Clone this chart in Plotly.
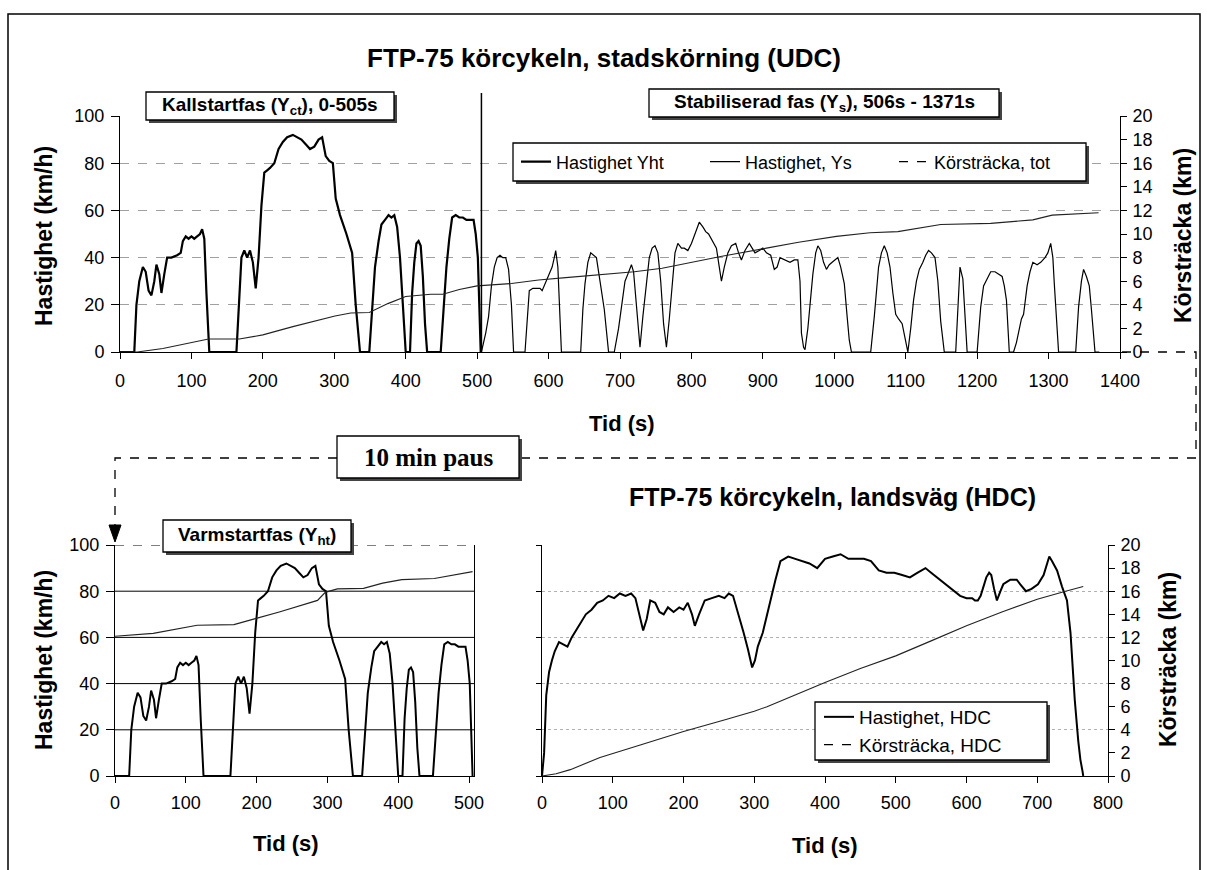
import plotly.graph_objects as go

W, H = 1207, 870

# ---------------- data ----------------
# Cold start phase (Yct / Yht), 0-505 s, km/h
t_yct = [0, 20, 23, 27, 32, 36, 40, 44, 48, 51, 55, 58, 62, 66, 72, 80, 85, 88, 92, 96, 100, 104, 108, 112, 115, 118, 121, 125,
         163, 166, 170, 174, 178, 182, 186, 190, 194, 198, 202, 206, 210, 216, 222, 228, 234, 242, 248, 254,
         260, 266, 272, 278, 283, 288, 293, 298, 302, 308, 317, 325, 330, 336,
         349, 353, 357, 362, 366, 371, 376, 380, 384, 388, 392, 396, 400,
         406, 409, 412, 415, 418, 421, 424, 427, 430,
         449, 453, 457, 461, 465, 470, 475, 480, 485, 490, 495, 498, 501, 505]
v_yct = [0, 0, 20, 30, 36, 34, 26, 24, 30, 37, 33, 25, 33, 40, 40, 41, 42, 47, 49, 48, 49, 48, 49, 50, 52, 48, 25, 0,
         0, 20, 40, 43, 40, 43, 38, 27, 40, 62, 76, 77, 78, 80, 86, 89, 91, 92, 91, 90,
         88, 86, 87, 90, 91, 83, 81, 80, 65, 58, 50, 42, 20, 0,
         0, 20, 36, 47, 54, 56, 58, 57, 58, 53, 40, 20, 0,
         0, 25, 38, 46, 47, 45, 32, 12, 0,
         0, 18, 36, 48, 57, 58, 57, 57, 56, 56, 56, 50, 40, 0]

# Stabilised phase (Ys), 506-1371 s, km/h
t_ys = [506, 512, 516, 520, 524, 528, 532, 536, 540, 544, 548, 551,
        567, 573, 578, 583, 588, 591, 594, 597, 601, 605, 608, 610, 613, 616, 618,
        645, 648, 651, 655, 659, 663, 667, 672, 678, 684,
        692, 698, 703, 707, 711, 716, 719, 722, 725, 728,
        732, 737, 741, 745, 749, 753, 757, 761, 765,
        769, 773, 777, 781, 786, 790, 795, 800, 805, 811,
        816, 820, 824, 829, 835, 839, 842, 846, 851, 856,
        862, 866, 870, 875, 881, 885, 889, 895, 900, 905,
        911, 916, 920, 924, 930, 938, 944, 949, 952, 954,
        957, 959, 963, 967, 970, 974, 977, 981, 985, 989,
        993, 997, 1001, 1005, 1009, 1014, 1018, 1021, 1024,
        1051, 1056, 1059, 1062, 1066, 1070, 1074, 1078, 1082, 1086, 1090, 1095, 1099, 1103,
        1107, 1111, 1115, 1119, 1124, 1128, 1132, 1136, 1141, 1145, 1149, 1154,
        1170, 1173, 1176, 1180, 1183, 1186,
        1200, 1205, 1209, 1214, 1219, 1225, 1230, 1235, 1238, 1241, 1245,
        1251, 1255, 1259, 1262, 1265, 1270, 1274, 1278, 1284, 1289, 1295, 1299, 1303, 1306, 1308, 1311, 1314,
        1338, 1342, 1346, 1349, 1353, 1357, 1360, 1363, 1365, 1371]
v_ys = [0, 8, 15, 28, 36, 40, 41, 40, 40, 35, 20, 0,
        0, 26, 27, 27, 27, 26, 28, 30, 33, 36, 40, 43, 36, 15, 0,
        0, 18, 29, 38, 42, 41, 40, 30, 18, 0,
        0, 10, 22, 30, 33, 37, 34, 22, 10, 2,
        15, 30, 40, 44, 45, 42, 30, 12, 2,
        14, 30, 42, 46, 44, 44, 43, 46, 50, 55,
        53, 51, 50, 47, 44, 36, 30, 36, 42, 45,
        46, 42, 39, 43, 46, 44, 42, 43, 44, 42,
        41, 35, 36, 40, 39, 38, 39, 39, 30, 8,
        2, 1, 10, 25, 33, 42, 45, 43, 38, 35,
        37, 38, 39, 40, 36, 29, 15, 5, 0,
        0, 15, 27, 36, 42, 45, 42, 36, 25, 16, 14, 12, 6, 0,
        10, 22, 30, 35, 38, 41, 43, 42, 40, 30, 13, 0,
        0, 20, 36, 31, 15, 0,
        0, 19, 28, 31, 34, 34, 33, 32, 28, 22, 0,
        0, 4, 9, 14, 16, 28, 34, 38, 37, 38, 40, 42, 46, 40, 29, 12, 0,
        0, 19, 30, 35, 32, 28, 18, 5, 0, 0]

# Total distance over UDC (km)
t_dist_tot = [0, 24, 60, 100, 124, 167, 200, 242, 270, 301,
              323, 349, 375, 400, 435, 452, 475, 500, 548, 586,
              624, 676, 720, 759, 800, 841, 905, 950, 1003, 1050,
              1089, 1149, 1219, 1278, 1305, 1340, 1370]
d_dist_tot = [0, 0, 0.3, 0.8, 1.1, 1.1, 1.45, 2.15, 2.6, 3.05,
              3.3, 3.35, 4.1, 4.7, 4.9, 4.9, 5.3, 5.6, 5.8, 6.1,
              6.3, 6.6, 6.8, 7.1, 7.6, 8.1, 8.8, 9.3, 9.8, 10.1,
              10.2, 10.8, 10.9, 11.2, 11.6, 11.7, 11.8]

# Hot start phase: total distance continues (km)
t_dist_ht = [0, 54, 116, 168, 197, 232, 286, 297, 314, 351, 378, 405, 451, 505]
d_dist_ht = [12.1, 12.35, 13.05, 13.1, 13.6, 14.2, 15.2, 15.9, 16.2, 16.25, 16.7, 17.0, 17.1, 17.7]

# HDC speed (km/h)
t_hdc = [0, 3, 6, 10, 14, 18, 24, 30, 36, 42,
         48, 55, 62, 70, 78, 86, 94, 102, 110, 118,
         126, 132, 138, 143, 148, 153, 160, 166, 172, 178,
         186, 194, 200, 206, 212, 216, 222, 230, 240, 250,
         258, 264, 270, 278, 285, 291, 297, 301, 305, 312,
         318, 323, 330, 337, 348, 358, 368, 378, 389, 400,
         411, 422, 433, 444, 455, 465, 476, 487, 498, 509,
         520, 531, 542, 550, 558, 566, 575, 583, 591, 600,
         608, 612, 616, 620, 624, 628, 632, 635, 639, 643,
         648, 652, 657, 662, 667, 671, 676, 684, 692, 701,
         709, 714, 717, 721, 725, 728, 735, 742, 747, 753,
         758, 761, 764, 765]
v_hdc = [0, 10, 35, 45, 50, 54, 58, 57, 56, 60,
         63, 66, 70, 72, 75, 76, 78, 77, 79, 78,
         79, 77, 70, 63, 68, 76, 75, 71, 70, 73,
         71, 73, 72, 75, 70, 65, 70, 76, 77, 78,
         77, 79, 78, 70, 62, 55, 47, 50, 56, 62,
         70, 76, 85, 93, 95, 94, 93, 92, 90, 94,
         95, 96, 94, 94, 94, 93, 89, 88, 88, 87,
         86, 88, 90, 88, 86, 84, 82, 80, 78, 77,
         77, 76, 76, 78, 82, 86, 88, 87, 81, 76,
         80, 83, 84, 85, 85, 85, 83, 80, 81, 83,
         87, 92, 95, 93, 91, 89, 82, 76, 62, 33,
         15, 7, 2, 0]

# HDC distance (km)
t_hdc_dist = [0, 20, 40, 82, 140, 200, 260, 300, 318, 360, 400, 450, 500, 550, 600, 650, 700, 740, 765]
d_hdc_dist = [0, 0.2, 0.55, 1.6, 2.7, 3.86, 4.9, 5.6, 6.0, 7.1, 8.1, 9.3, 10.4, 11.7, 13.0, 14.2, 15.3, 16.0, 16.4]

# tick values
ticks_t_udc = [0, 100, 200, 300, 400, 500, 600, 700, 800, 900, 1000, 1100, 1200, 1300, 1400]
ticks_t_ht = [0, 100, 200, 300, 400, 500]
ticks_t_hdc = [0, 100, 200, 300, 400, 500, 600, 700, 800]
ticks_speed = [0, 20, 40, 60, 80, 100]
ticks_km = [0, 2, 4, 6, 8, 10, 12, 14, 16, 18, 20]
phase_split = 506

# ---------------- helpers (layout only) ----------------
def px(x):
    return x / W


def py(y):
    return 1 - y / H


FONT = "Liberation Sans, Arial, sans-serif"
SERIF = "Liberation Serif, Times New Roman, serif"
tickfont = dict(family=FONT, size=18, color="black")

fig = go.Figure()

# Top chart traces
fig.add_trace(go.Scatter(x=t_yct, y=v_yct, mode="lines", name="Hastighet Yht",
                         line=dict(color="black", width=2.2), xaxis="x", yaxis="y", legend="legend"))
fig.add_trace(go.Scatter(x=t_ys, y=v_ys, mode="lines", name="Hastighet, Ys",
                         line=dict(color="black", width=1.2), xaxis="x", yaxis="y", legend="legend"))
fig.add_trace(go.Scatter(x=t_dist_tot, y=d_dist_tot, mode="lines", name="Körsträcka, tot",
                         line=dict(color="#222", width=1.1), xaxis="x", yaxis="y2", showlegend=False))
fig.add_trace(go.Scatter(x=[None], y=[None], mode="lines", name="Körsträcka, tot",
                         line=dict(color="black", width=1.2, dash="dash"), xaxis="x", yaxis="y2", legend="legend"))

# Bottom-left (hot start)
fig.add_trace(go.Scatter(x=t_yct, y=v_yct, mode="lines", name="Hastighet, Yht",
                         line=dict(color="black", width=2.0), xaxis="x3", yaxis="y3", showlegend=False))
fig.add_trace(go.Scatter(x=t_dist_ht, y=d_dist_ht, mode="lines", name="Körsträcka, Yht",
                         line=dict(color="#222", width=1.2), xaxis="x3", yaxis="y4", showlegend=False))

# Bottom-right (HDC)
fig.add_trace(go.Scatter(x=t_hdc, y=v_hdc, mode="lines", name="Hastighet, HDC",
                         line=dict(color="black", width=2.0), xaxis="x5", yaxis="y5", legend="legend2"))
fig.add_trace(go.Scatter(x=t_hdc_dist, y=d_hdc_dist, mode="lines", name="Körsträcka, HDC",
                         line=dict(color="#222", width=1.1), xaxis="x5", yaxis="y6", showlegend=False))
fig.add_trace(go.Scatter(x=[None], y=[None], mode="lines", name="Körsträcka, HDC",
                         line=dict(color="black", width=1.2, dash="dash"), xaxis="x5", yaxis="y6", legend="legend2"))

axis_common = dict(showline=True, linecolor="black", linewidth=1, ticks="outside", tickcolor="black",
                   tickwidth=1, tickfont=tickfont, zeroline=False)

top_dom_y = [py(352), py(116)]
bot_dom_y = [py(776), py(545)]

fig.update_layout(
    autosize=True, margin=dict(l=0, r=0, t=0, b=0, autoexpand=False),
    paper_bgcolor="white", plot_bgcolor="white",
    font=dict(family=FONT, color="black"),
    xaxis=dict(domain=[px(120), px(1120)], range=[0, 1400], tickvals=ticks_t_udc, ticklen=6,
               showgrid=False, anchor="y", ticklabelstandoff=6, **axis_common),
    yaxis=dict(domain=top_dom_y, range=[0, 100], tickvals=ticks_speed, ticklen=8, anchor="x",
               showgrid=True, gridcolor="#a0a0a0", griddash="dash", gridwidth=1, ticklabelstandoff=3,
               **axis_common),
    yaxis2=dict(overlaying="y", side="right", range=[0, 20], tickvals=ticks_km, ticklen=6, anchor="x",
                showgrid=False, ticklabelstandoff=2, **axis_common),
    xaxis3=dict(domain=[px(115), px(474)], range=[0, 507], tickvals=ticks_t_ht, ticklen=6,
                showgrid=False, anchor="y3", ticklabelstandoff=4, **axis_common),
    yaxis3=dict(domain=bot_dom_y, range=[0, 100], tickvals=ticks_speed, ticklen=8, anchor="x3",
                showgrid=False, mirror=True, ticklabelstandoff=3, **axis_common),
    yaxis4=dict(overlaying="y3", range=[0, 20], visible=False, anchor="x3"),
    xaxis5=dict(domain=[px(542), px(1108)], range=[0, 800], tickvals=ticks_t_hdc, ticklen=6,
                showgrid=False, anchor="y5", ticklabelstandoff=4, **axis_common),
    yaxis5=dict(domain=bot_dom_y, range=[0, 100], tickvals=ticks_speed, ticklen=5, anchor="x5",
                showticklabels=False, showgrid=True, gridcolor="#b0b0b0", griddash="dot", gridwidth=1,
                **axis_common),
    yaxis6=dict(overlaying="y5", side="right", range=[0, 20], tickvals=ticks_km, ticklen=6, anchor="x5",
                showgrid=False, ticklabelstandoff=2, **axis_common),
    legend=dict(orientation="h", x=px(516), y=py(162), xanchor="left", yanchor="middle",
                bgcolor="rgba(0,0,0,0)", borderwidth=0, entrywidth=144,
                font=dict(family=FONT, size=18, color="black")),
    legend2=dict(orientation="v", x=px(819), y=py(731), xanchor="left", yanchor="middle",
                 bgcolor="rgba(0,0,0,0)", borderwidth=0, tracegroupgap=0,
                 font=dict(family=FONT, size=19, color="black")),
)

shapes = []
# outer frame
shapes.append(dict(type="rect", xref="paper", yref="paper", x0=px(8), x1=px(1200), y0=py(14), y1=py(880),
                   line=dict(color="black", width=1.5), layer="below"))
# phase split line
shapes.append(dict(type="line", xref="x", yref="paper", x0=phase_split, x1=phase_split, y0=py(352), y1=py(93),
                   line=dict(color="black", width=1.5)))
# bottom-left gridlines
for yv in ticks_speed[1:]:
    shapes.append(dict(type="line", xref="x3 domain", yref="y3", x0=0, x1=1, y0=yv, y1=yv,
                       line=dict(color="black", width=1, dash="dash" if yv == 100 else "solid"), layer="below"))
# dashed connector for the pause
shapes.append(dict(type="path", xref="paper", yref="paper",
                   path=f"M {px(1122)},{py(352)} L {px(1196)},{py(352)} L {px(1196)},{py(458)} L {px(519)},{py(458)}",
                   line=dict(color="black", width=1.3, dash="dash")))
shapes.append(dict(type="path", xref="paper", yref="paper",
                   path=f"M {px(337)},{py(458)} L {px(115)},{py(458)} L {px(115)},{py(526)}",
                   line=dict(color="black", width=1.3, dash="dash")))
shapes.append(dict(type="path", xref="paper", yref="paper",
                   path=f"M {px(109)},{py(525)} L {px(121)},{py(525)} L {px(115)},{py(542)} Z",
                   fillcolor="black", line=dict(color="black", width=1)))


def framed_rect(x0, y0, x1, y1):
    # shadow + white framed box (layout decoration)
    shapes.append(dict(type="rect", xref="paper", yref="paper",
                       x0=px(x0 + 3), x1=px(x1 + 3), y0=py(y1 + 3), y1=py(y0 + 3),
                       fillcolor="#444", line=dict(width=0), layer="above"))
    shapes.append(dict(type="rect", xref="paper", yref="paper",
                       x0=px(x0), x1=px(x1), y0=py(y1), y1=py(y0),
                       fillcolor="white", line=dict(color="black", width=1.3), layer="above"))


# legend frames
framed_rect(513, 143, 1086, 181)
framed_rect(815, 702, 1047, 760)

annotations = []


def box(text, cx, cy, w, h, size=19, family=FONT):
    framed_rect(cx - w / 2, cy - h / 2, cx + w / 2, cy + h / 2)
    annotations.append(dict(text=text, x=px(cx), y=py(cy), xref="paper", yref="paper", showarrow=False,
                            xanchor="center", yanchor="middle",
                            font=dict(family=family, size=size, color="black")))


def label(text, x, y, size=22, angle=0):
    annotations.append(dict(text=text, x=px(x), y=py(y), xref="paper", yref="paper", showarrow=False,
                            xanchor="center", yanchor="middle", textangle=angle,
                            font=dict(family=FONT, size=size, color="black")))


box("<b>Kallstartfas (Y<sub>ct</sub>), 0-505s</b>", 270, 106, 248, 28)
box("<b>Stabiliserad fas (Y<sub>s</sub>), 506s - 1371s</b>", 824, 103, 350, 28)
box("<b>Varmstartfas (Y<sub>ht</sub>)</b>", 257, 536, 188, 32)
box("<b>10 min paus</b>", 428, 457, 182, 42, size=25, family=SERIF)

label("<b>FTP-75 körcykeln, stadskörning (UDC)</b>", 604, 58, size=26)
label("<b>FTP-75 körcykeln, landsväg (HDC)</b>", 832, 497, size=25)
label("<b>Hastighet (km/h)</b>", 44, 236, size=23, angle=-90)
label("<b>Hastighet (km/h)</b>", 44, 660, size=23, angle=-90)
label("<b>Körsträcka (km)</b>", 1183, 236, size=23, angle=-90)
label("<b>Körsträcka (km)</b>", 1168, 660, size=23, angle=-90)
label("<b>Tid (s)</b>", 622, 424)
label("<b>Tid (s)</b>", 286, 843)
label("<b>Tid (s)</b>", 825, 845)

fig.update_layout(shapes=shapes, annotations=annotations)

pin_div = ("document.body.style.margin='0';document.body.style.overflow='hidden';"
           "var d=document.getElementById('{plot_id}');d.style.position='fixed';"
           "d.style.left='0px';d.style.top='0px';d.style.width='100vw';d.style.height='100vh';")
fig.write_html("out.html", default_width="100vw", default_height="100vh",
               config={"displayModeBar": False, "responsive": True}, post_script=pin_div)
